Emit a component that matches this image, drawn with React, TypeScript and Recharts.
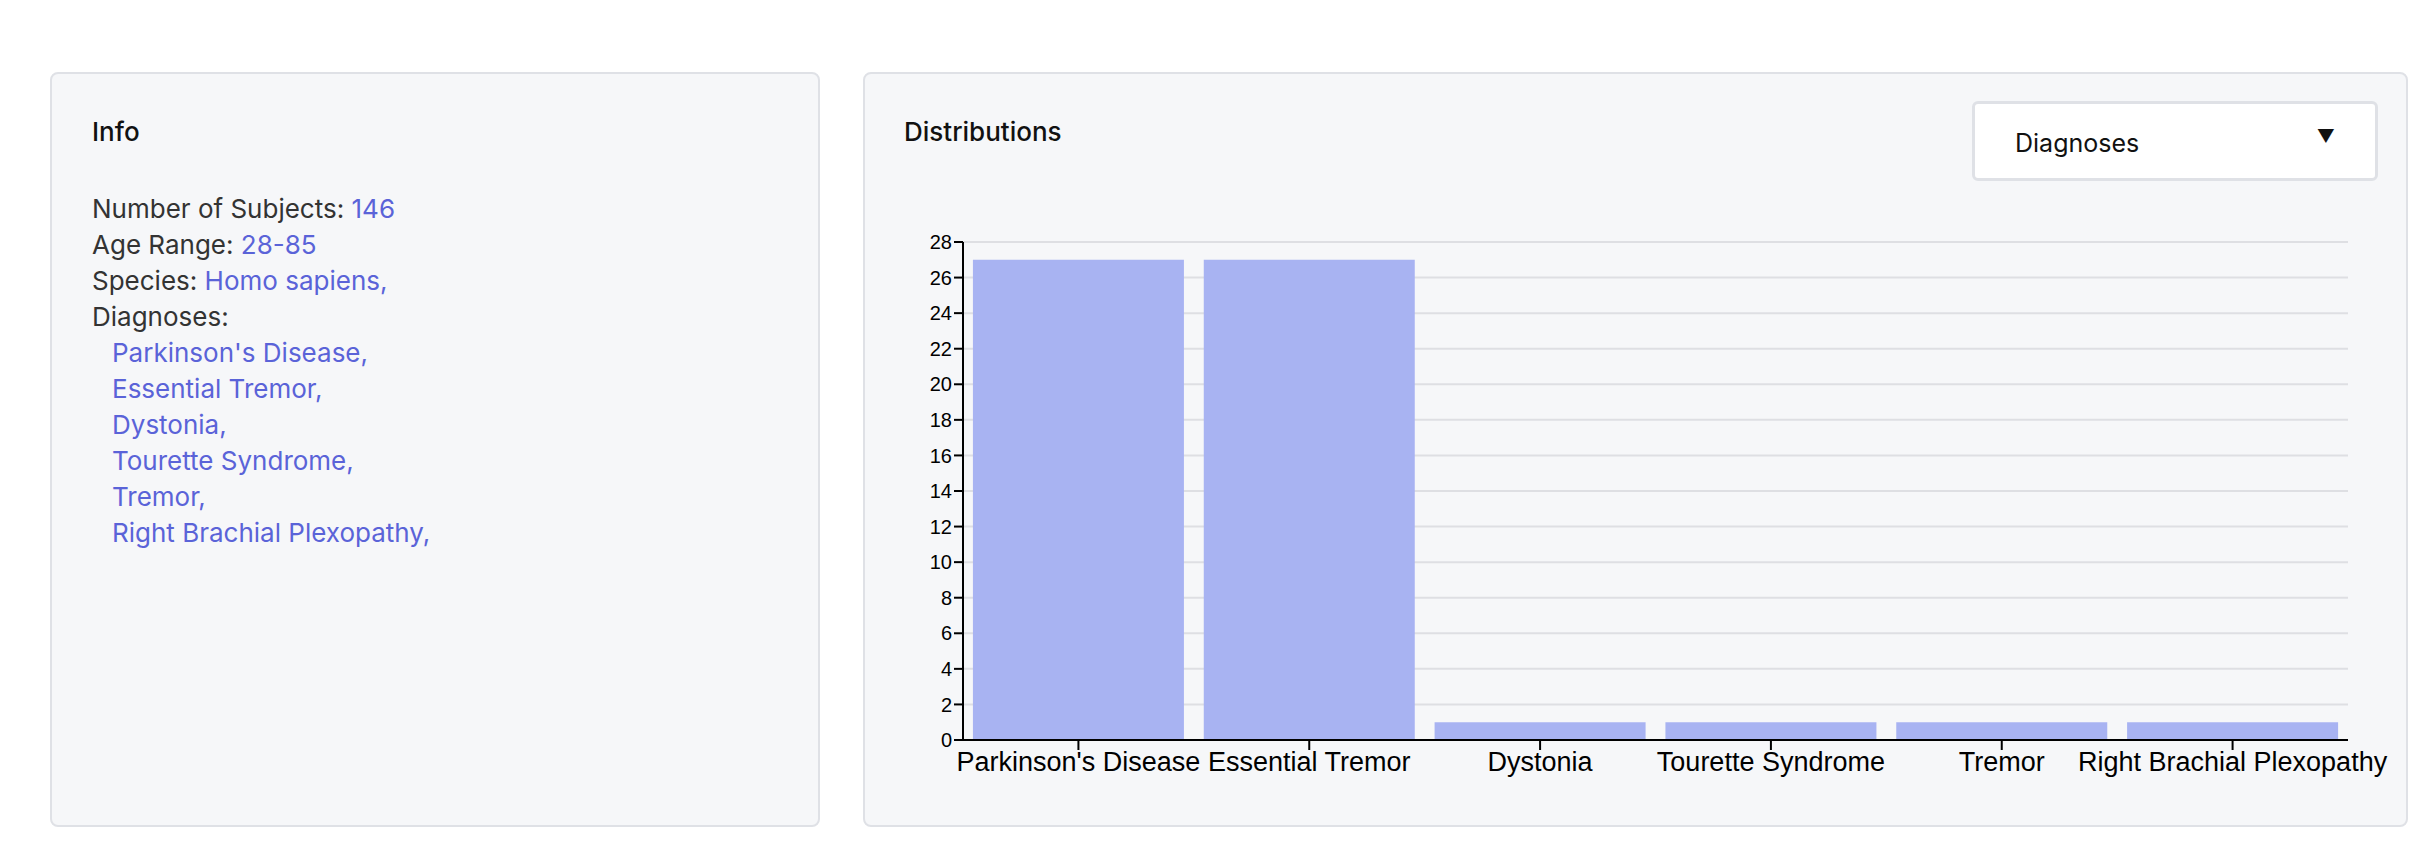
import React from "react";
import { BarChart, Bar, XAxis, YAxis, CartesianGrid } from "recharts";

const categories = ["Parkinson's Disease", "Essential Tremor", "Dystonia", "Tourette Syndrome", "Tremor", "Right Brachial Plexopathy"];
const counts = [27, 27, 1, 1, 1, 1];
const yTicks = [0, 2, 4, 6, 8, 10, 12, 14, 16, 18, 20, 22, 24, 26, 28];
const data = categories.map((name, i) => ({ name, count: counts[i] }));

const blue = "#5a63d8";
const font = "Inter, 'Liberation Sans', Arial, sans-serif";
const panel: React.CSSProperties = {
  position: "absolute", top: 64, height: 755, background: "#f6f7f9",
  border: "2px solid #dfe1e6", borderRadius: 8, boxSizing: "border-box", fontFamily: font,
};
const line: React.CSSProperties = { fontSize: 26, color: "#333", height: 36, lineHeight: "36px" };

export default function App() {
  return (
    <div style={{ position: "relative", width: 2434, height: 857, background: "#fff" }}>
      <div style={{ ...panel, left: 42, width: 770 }}>
        <div style={{ position: "absolute", left: 40, top: 42, fontSize: 26, fontWeight: 500, color: "#111" }}>Info</div>
        <div style={{ position: "absolute", left: 40, top: 117 }}>
          <div style={line}>Number of Subjects: <span style={{ color: blue }}>146</span></div>
          <div style={line}>Age Range: <span style={{ color: blue }}>28-85</span></div>
          <div style={line}>Species: <span style={{ color: blue }}>Homo sapiens,</span></div>
          <div style={line}>Diagnoses:</div>
          {categories.map((c) => (
            <div key={c} style={{ ...line, color: blue, paddingLeft: 20 }}>{c},</div>
          ))}
        </div>
      </div>
      <div style={{ ...panel, left: 855, width: 1545 }}>
        <div style={{ position: "absolute", left: 39, top: 42, fontSize: 26, fontWeight: 500, color: "#111" }}>Distributions</div>
        <div style={{ position: "absolute", left: 1107, top: 27, width: 406, height: 80, background: "#fff", border: "3px solid #dfe1e6", borderRadius: 6, boxSizing: "border-box", fontSize: 25, color: "#111" }}>
          <span style={{ position: "absolute", left: 40, top: 24 }}>Diagnoses</span>
          <span style={{ position: "absolute", right: 40, top: 22, fontSize: 18 }}>▼</span>
        </div>
      </div>
      <div style={{ position: "absolute", left: 880, top: 215 }}>
        <BarChart width={1500} height={600} data={data} margin={{ top: 19, right: 40, bottom: 0, left: 0 }} barCategoryGap="4.3%">
          <CartesianGrid vertical={false} stroke="#dedfe3" strokeWidth={2} />
          <XAxis dataKey="name" interval={0} height={83} axisLine={{ stroke: "#000", strokeWidth: 2 }} tickLine={{ stroke: "#000", strokeWidth: 2 }} tickSize={10}
            tick={{ fill: "#000", fontSize: 27, fontFamily: "'Liberation Sans', Arial, sans-serif" }} />
          <YAxis width={75} domain={[0, 28]} ticks={yTicks} interval={0} axisLine={{ stroke: "#000", strokeWidth: 2 }} tickLine={{ stroke: "#000", strokeWidth: 2 }} tickSize={9}
            tick={{ fill: "#000", fontSize: 20, fontFamily: "'Liberation Sans', Arial, sans-serif" }} />
          <Bar dataKey="count" fill="#a8b3f2" isAnimationActive={false} />
        </BarChart>
      </div>
    </div>
  );
}
